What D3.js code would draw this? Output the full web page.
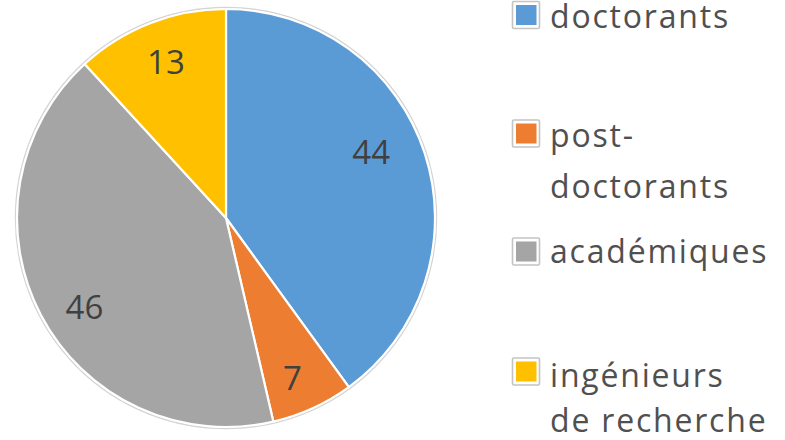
<!DOCTYPE html>
<html><head><meta charset="utf-8">
<script src="https://cdn.jsdelivr.net/npm/d3@7"></script>
<style>html,body{margin:0;padding:0;background:#fff;}svg{display:block;}</style>
</head><body>
<svg id="c" width="785" height="440"></svg>
<script>
const categories = ["doctorants", "post-doctorants", "académiques", "ingénieurs de recherche"];
const legendLines = [["doctorants"], ["post-", "doctorants"], ["académiques"], ["ingénieurs", "de recherche"]];
const values = [44, 7, 46, 13];
const colors = ["#5B9BD5", "#ED7D31", "#A5A5A5", "#FFC000"];

const svg = d3.select("#c");
const cx = 226, cy = 218, R = 209;
const g = svg.append("g").attr("transform", `translate(${cx},${cy})`);

const pie = d3.pie().sort(null).value(d => d)(values);
const arc = d3.arc().innerRadius(0).outerRadius(R);
const labelArc = d3.arc().innerRadius(160).outerRadius(160);
const labelNudge = [[-7, -17], [0, 14], [0, 14], [-2, -7]];

g.append("circle").attr("r", R + 1.5).attr("fill", "none").attr("stroke", "#d4d4d4").attr("stroke-width", 1.5);
g.selectAll("path.s").data(pie).enter().append("path")
  .attr("class", "s")
  .attr("d", arc)
  .attr("fill", (d, i) => colors[i])
  .attr("stroke", "#fff").attr("stroke-width", 2.2).attr("stroke-linejoin", "round");

g.selectAll("text.l").data(pie).enter().append("text")
  .attr("class", "l")
  .attr("transform", (d, i) => { const c = labelArc.centroid(d); return `translate(${c[0] + labelNudge[i][0]},${c[1] + labelNudge[i][1]})`; })
  .attr("text-anchor", "middle").attr("dominant-baseline", "central")
  .attr("font-family", "'Open Sans', sans-serif").attr("font-size", 33)
  .attr("fill", "#404040")
  .text(d => d.data);

// legend
const squareY = [15, 133.5, 251.5, 371.5];
const baselines = [[28], [147, 198], [263], [387, 432]];
const lg = svg.append("g");
const items = lg.selectAll("g.item").data(categories).enter().append("g")
  .attr("class", "item");
items.append("rect").attr("x", 512.5).attr("y", (d, i) => squareY[i] - 13.5).attr("width", 27).attr("height", 27)
  .attr("fill", "#fff").attr("stroke", "#c4c4c4").attr("stroke-width", 1.6).attr("rx", 1.5);
items.append("rect").attr("x", 516).attr("y", (d, i) => squareY[i] - 10).attr("width", 20.5).attr("height", 20)
  .attr("fill", (d, i) => colors[i]);
items.each(function(d, i) {
  const t = d3.select(this).append("text")
    .attr("font-family", "'Open Sans', sans-serif").attr("font-size", 32)
    .attr("font-weight", 500)
    .attr("letter-spacing", 1.8)
    .attr("fill", "#505050");
  legendLines[i].forEach((ln, j) => {
    t.append("tspan").attr("x", 550).attr("y", baselines[i][j]).text(ln);
  });
});
</script>
</body></html>
